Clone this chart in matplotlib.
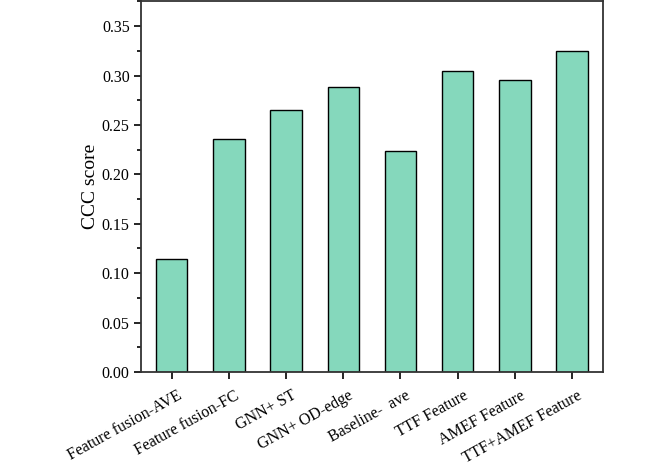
import numpy as np
import matplotlib.pyplot as plt
import matplotlib.transforms as mtransforms
from matplotlib.ticker import MultipleLocator

plt.rcParams['font.family'] = ['Liberation Serif', 'DejaVu Serif']

methods = ['Feature fusion-AVE', 'Feature fusion-FC', 'GNN+ ST', 'GNN+ OD-edge',
           'Baseline-  ave', 'TTF Feature', 'AMEF Feature', 'TTF+AMEF Feature']
ccc = [0.114, 0.236, 0.265, 0.288, 0.224, 0.305, 0.296, 0.325]

fig = plt.figure(figsize=(6.64, 4.70), dpi=100)
ax = fig.add_axes([0.213, 0.2085, 0.695, 0.7895])

x = np.arange(len(methods))
ax.bar(x, ccc, width=0.55, color='#85d8bc', edgecolor='black', linewidth=1.0)

ax.set_xlim(-0.53, 7.54)
ax.set_ylim(0, 0.3755)
ax.yaxis.set_major_locator(MultipleLocator(0.05))
ax.yaxis.set_minor_locator(MultipleLocator(0.025))
ax.yaxis.set_major_formatter(plt.FormatStrFormatter('%.2f'))
ax.set_xticks(x)
ax.set_xticklabels(methods, rotation=29, ha='right', rotation_mode='anchor')
ax.tick_params(axis='both', which='major', direction='out', length=5, width=1.2, labelsize=11.5)
ax.tick_params(axis='y', which='minor', direction='out', length=3, width=1.2)
ax.tick_params(axis='x', pad=4)

# push the slanted labels down/right a little
shift = mtransforms.ScaledTranslation(0.05, -0.03, fig.dpi_scale_trans)
for lbl in ax.get_xticklabels():
    lbl.set_transform(lbl.get_transform() + shift)

ax.set_ylabel('CCC score', fontsize=14, labelpad=2)

for s in ax.spines.values():
    s.set_linewidth(1.3)
    s.set_color('#333333')

fig.savefig('out.png', dpi=100)
